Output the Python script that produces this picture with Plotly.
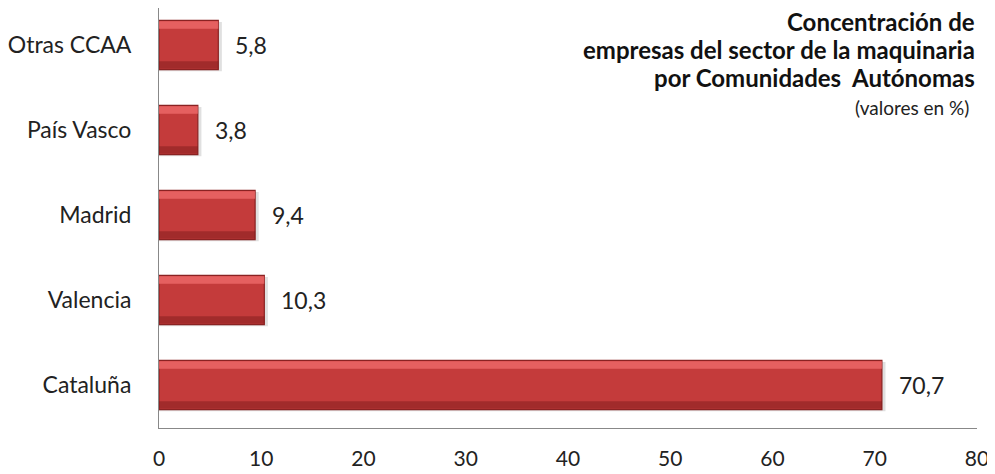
import plotly.graph_objects as go

categories = ["Cataluña", "Valencia", "Madrid", "País Vasco", "Otras CCAA"]
values = [70.7, 10.3, 9.4, 3.8, 5.8]
x_ticks = [0, 10, 20, 30, 40, 50, 60, 70, 80]
title_lines = ["Concentración de", "empresas del sector de la maquinaria",
               "por Comunidades  Autónomas"]
subtitle = "(valores en %)"

labels = [f"{v:.1f}".replace(".", ",") for v in values]

FONT = "Lato, 'Open Sans', sans-serif"

fig = go.Figure()
# shadow
fig.add_trace(go.Bar(
    y=categories, x=[v + 0.35 for v in values], orientation="h", width=0.58,
    offset=-0.31, marker=dict(color="rgba(0,0,0,0.12)", line=dict(width=0)),
    hoverinfo="skip",
))
# main bar
fig.add_trace(go.Bar(
    y=categories, x=values, orientation="h", width=0.58, offset=-0.29,
    marker=dict(color="#C43B3B", line=dict(color="#8A2222", width=1.2)),
    hoverinfo="skip",
))
# bevel highlight (top)
fig.add_trace(go.Bar(
    y=categories, x=values, orientation="h", width=0.09, offset=0.19,
    marker=dict(color="rgba(240,110,110,0.75)", line=dict(width=0)),
    hoverinfo="skip",
))
# bevel shade (bottom)
fig.add_trace(go.Bar(
    y=categories, x=values, orientation="h", width=0.09, offset=-0.28,
    marker=dict(color="rgba(120,25,25,0.45)", line=dict(width=0)),
    hoverinfo="skip",
))
fig.update_layout(barmode="overlay")

for c, v, t in zip(categories, values, labels):
    fig.add_annotation(x=v, y=c, text=t, showarrow=False, xanchor="left",
                       xshift=15, font=dict(size=23, color="#222", family=FONT))

# title block, one annotation per line (plot area spans 420 px, top at page y=8)
line_px = [22, 50, 78]
for txt, py in zip(title_lines, line_px):
    fig.add_annotation(xref="paper", yref="paper", x=1.0, y=(428 - py) / 420,
                       xanchor="right", yanchor="middle", showarrow=False,
                       text=f"<b>{txt}</b>", font=dict(size=24, color="#111", family=FONT))
fig.add_annotation(xref="paper", yref="paper", x=0.993, y=(428 - 107) / 420,
                   xanchor="right", yanchor="middle", showarrow=False,
                   text=subtitle, font=dict(size=19, color="#222", family=FONT))

fig.update_layout(
    width=987, height=466,
    margin=dict(l=151, r=18, t=0, b=46),
    paper_bgcolor="white", plot_bgcolor="white",
    showlegend=False,
    font=dict(family=FONT, size=23, color="#222"),
    separators=",.",
    xaxis=dict(range=[0, 80], tickvals=x_ticks, showgrid=False, zeroline=False,
               showline=True, linecolor="#888", linewidth=1,
               ticks="outside", ticklen=12, tickcolor="rgba(0,0,0,0)",
               tickfont=dict(size=21), automargin=False),
    yaxis=dict(showgrid=False, zeroline=False, showline=True, linecolor="#888",
               linewidth=1, ticks="outside", ticklen=22, tickcolor="rgba(0,0,0,0)",
               tickfont=dict(size=23), range=[-0.506, 4.435], automargin=False),
)

fig.write_html("out.html")
